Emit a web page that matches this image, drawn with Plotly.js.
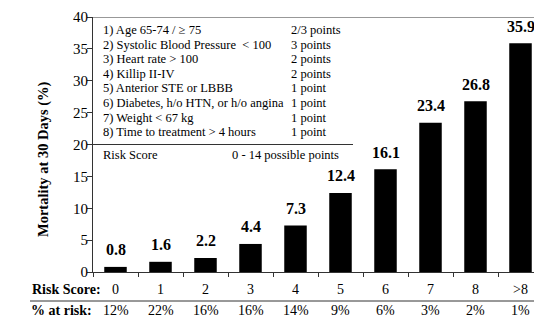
<!DOCTYPE html>
<html>
<head>
<meta charset="utf-8">
<script src="https://cdn.plot.ly/plotly-3.0.1.min.js"></script>
<style>html,body{margin:0;padding:0;background:#fff;}#chart{width:534px;height:318px;}</style>
</head>
<body>
<div id="chart"></div>
<script>
const riskScores = ['0','1','2','3','4','5','6','7','8','>8'];
const mortality = [0.8, 1.6, 2.2, 4.4, 7.3, 12.4, 16.1, 23.4, 26.8, 35.9];
const pctAtRisk = ['12%','22%','16%','16%','14%','9%','6%','3%','2%','1%'];
const factors = [
  '1) Age 65-74 / \u2265 75',
  '2) Systolic Blood Pressure  < 100',
  '3) Heart rate > 100',
  '4) Killip II-IV',
  '5) Anterior STE or LBBB',
  '6) Diabetes, h/o HTN, or h/o angina',
  '7) Weight < 67 kg',
  '8) Time to treatment > 4 hours'
];
const factorPoints = ['2/3 points','3 points','2 points','2 points','1 point','1 point','1 point','1 point'];
const yTicks = [0,5,10,15,20,25,30,35,40];

const serif = "'Liberation Serif', 'Times New Roman', Times, serif";
const W = 534, H = 318, L = 93, R = 0, T = 17, B = 46;
const pw = W - L - R, ph = H - T - B;
const px2x = p => (p - L) / pw;
const px2y = p => (H - B - p) / ph;

const annotations = [];
riskScores.forEach((c, i) => {
  annotations.push({x: c, y: mortality[i], xref: 'x', yref: 'y', text: '<b>' + mortality[i].toFixed(1) + '</b>',
    showarrow: false, yanchor: 'middle', yshift: 17, font: {family: serif, size: 16, color: '#000'}});
});
riskScores.forEach((c, i) => {
  annotations.push({x: c, y: px2y(310), xref: 'x', yref: 'paper', text: pctAtRisk[i], borderpad: 0,
    showarrow: false, yanchor: 'middle', font: {family: serif, size: 14, color: '#000'}});
});
annotations.push({x: px2x(30), y: px2y(289), xref: 'paper', yref: 'paper', text: '<b>Risk Score:</b>',
  showarrow: false, xanchor: 'left', yanchor: 'middle', font: {family: serif, size: 14, color: '#000'}});
annotations.push({x: px2x(30), y: px2y(310), xref: 'paper', yref: 'paper', text: '<b>% at risk:</b>', borderpad: 0,
  showarrow: false, xanchor: 'left', yanchor: 'middle', font: {family: serif, size: 14, color: '#000'}});
annotations.push({x: px2x(43), y: px2y(159), xref: 'paper', yref: 'paper', text: '<b>Mortality at 30 Days (%)</b>',
  textangle: -90, showarrow: false, xanchor: 'center', yanchor: 'middle', font: {family: serif, size: 14.5, color: '#000'}});
factors.forEach((f, i) => {
  const py = 30 + i * 14.6;
  annotations.push({x: px2x(101), y: px2y(py), xref: 'paper', yref: 'paper', text: f,
    showarrow: false, xanchor: 'left', yanchor: 'middle', font: {family: serif, size: 12.5, color: '#000'}});
  annotations.push({x: px2x(289), y: px2y(py), xref: 'paper', yref: 'paper', text: factorPoints[i],
    showarrow: false, xanchor: 'left', yanchor: 'middle', font: {family: serif, size: 12.5, color: '#000'}});
});
annotations.push({x: px2x(101), y: px2y(155), xref: 'paper', yref: 'paper', text: 'Risk Score',
  showarrow: false, xanchor: 'left', yanchor: 'middle', font: {family: serif, size: 12.5, color: '#000'}});
annotations.push({x: px2x(341), y: px2y(155), xref: 'paper', yref: 'paper', text: '0 - 14 possible points',
  showarrow: false, xanchor: 'right', yanchor: 'middle', font: {family: serif, size: 12.5, color: '#000'}});

const shapes = [
  {type: 'line', xref: 'paper', yref: 'y', x0: 0, x1: 1, y0: 40, y1: 40, line: {color: '#333', width: 1}},
  {type: 'line', xref: 'paper', yref: 'y', x0: 0, x1: px2x(353), y0: 20, y1: 20, line: {color: '#333', width: 1}},
  {type: 'line', xref: 'paper', yref: 'paper', x0: px2x(30), x1: 1, y0: px2y(301), y1: px2y(301), line: {color: '#333', width: 1}}
];

const data = [{
  type: 'bar', x: riskScores, y: mortality, width: 0.5,
  marker: {color: '#000', line: {width: 0}}, hoverinfo: 'skip'
}];

const layout = {
  width: W, height: H,
  margin: {l: L, r: R, t: T, b: B, pad: 0},
  paper_bgcolor: '#fff', plot_bgcolor: '#fff',
  showlegend: false,
  font: {family: serif, color: '#000'},
  xaxis: {
    type: 'category', range: [-0.5, 9.3], tickson: 'boundaries',
    showline: true, linecolor: '#333', linewidth: 1,
    ticks: 'outside', ticklen: 4, tickcolor: '#333',
    showgrid: false, zeroline: false,
    tickfont: {family: serif, size: 14, color: '#000'}, ticklabelstandoff: 4
  },
  yaxis: {
    range: [0, 40], tickvals: yTicks, ticktext: yTicks.map(String),
    showline: true, linecolor: '#333', linewidth: 1,
    ticks: 'outside', ticklen: 5, tickcolor: '#333',
    showgrid: false, zeroline: false,
    tickfont: {family: serif, size: 15, color: '#000'}, ticklabelstandoff: -4
  },
  annotations: annotations,
  shapes: shapes
};

Plotly.newPlot('chart', data, layout, {staticPlot: true, displayModeBar: false});
</script>
</body>
</html>
